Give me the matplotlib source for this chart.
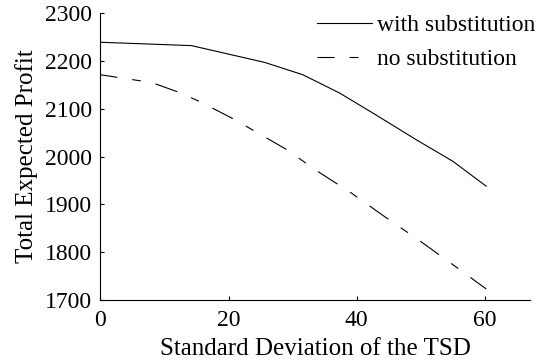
import matplotlib
matplotlib.use("Agg")
from matplotlib import pyplot as plt

# values
sd_with = [0, 14.2, 25.6, 31.6, 37.3, 43.0, 49.3, 55.0, 60.2]
profit_with = [2239, 2232, 2197, 2171, 2133, 2087, 2035, 1990, 1938]

sd_no = [0, 6.4, 8.8, 12.1, 15.5, 20.7, 25.9, 29.0, 33.9, 38.9, 44.7, 49.7, 55.5, 60.2]
profit_no = [2171, 2158, 2151, 2135, 2115, 2079, 2039, 2015, 1969, 1926, 1871, 1825, 1769, 1723]

x_ticks = [0, 20, 40, 60]
y_ticks = [1700, 1800, 1900, 2000, 2100, 2200, 2300]

plt.rcParams['font.family'] = ['Liberation Serif', 'DejaVu Serif']
plt.rcParams['font.size'] = 17
plt.rcParams['lines.scale_dashes'] = False

fig = plt.figure(figsize=(5.4, 3.64), dpi=100)
ax = fig.add_axes([0.186, 0.176, 0.795, 0.788])

ax.plot(sd_with, profit_with, color='black', linewidth=0.8, label='with substitution')
ax.plot(sd_no, profit_no, color='black', linewidth=0.8,
        linestyle=(4.3, (16.6, 10.8, 6.3, 10.8)), label='no substitution')

ax.set_xlim(0, 67)
ax.set_ylim(1700, 2300)
ax.set_xticks(x_ticks)
ax.set_yticks(y_ticks)
ax.spines['top'].set_visible(False)
ax.spines['right'].set_visible(False)
ax.spines['left'].set_linewidth(0.8)
ax.spines['bottom'].set_linewidth(0.8)
ax.tick_params(direction='in', length=3, width=0.8, labelsize=17)
ax.tick_params(axis='x', pad=7.5)
ax.tick_params(axis='y', pad=6)

ax.set_xlabel('Standard Deviation of the TSD', fontsize=18, labelpad=5)
ax.set_ylabel('Total Expected Profit', fontsize=18, labelpad=5)

ax.legend(loc='upper left', bbox_to_anchor=(0.587, 0.96), bbox_transform=fig.transFigure,
          frameon=False, borderpad=0, borderaxespad=0,
          handlelength=2.33, handletextpad=0.22, labelspacing=0.52, fontsize=17)

fig.savefig('out.png', dpi=100)
